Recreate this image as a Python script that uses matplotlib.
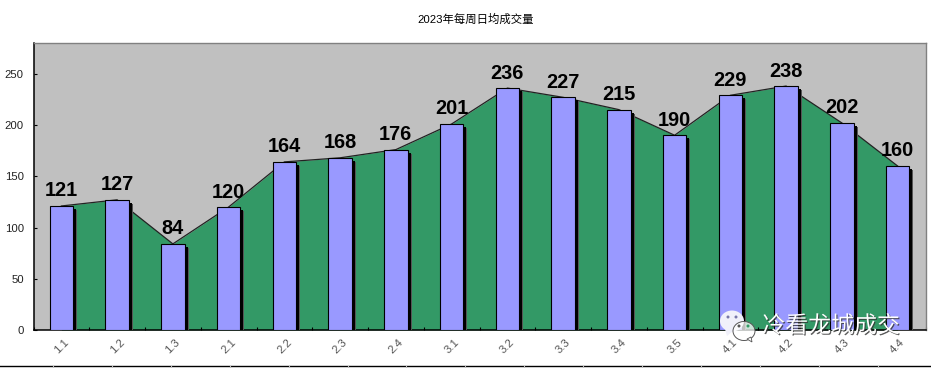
#!/usr/bin/env python3
import matplotlib
matplotlib.use("Agg")
import matplotlib.pyplot as plt
import matplotlib.patheffects as pe
from matplotlib.patches import Ellipse, Polygon

plt.rcParams["font.family"] = ["Liberation Sans", "Noto Sans CJK SC", "DejaVu Sans"]

weeks = ["1.1", "1.2", "1.3", "2.1", "2.2", "2.3", "2.4", "3.1",
         "3.2", "3.3", "3.4", "3.5", "4.1", "4.2", "4.3", "4.4"]
volumes = [121, 127, 84, 120, 164, 168, 176, 201,
           236, 227, 215, 190, 229, 238, 202, 160]
y_ticks = [0, 50, 100, 150, 200, 250]
title = "2023年每周日均成交量"
watermark = "冷看龙城成交"

W, H = 931, 368
PX = 72 / 100  # points per pixel at dpi 100

fig = plt.figure(figsize=(W / 100, H / 100), dpi=100, facecolor="white")
ax = fig.add_axes([33.5 / W, 1 - 330 / H, 892 / W, 287 / H], facecolor="#C0C0C0")

xs = list(range(len(weeks)))
ax.fill_between(xs, volumes, 0, color="#339966", lw=0, zorder=1)
ax.plot(xs, volumes, color="#222222", lw=0.9, zorder=2)

shadow = [
    pe.SimplePatchShadow(offset=(4 * PX, -4 * PX), shadow_rgbFace="#555555", alpha=1),
    pe.SimplePatchShadow(offset=(3 * PX, -3 * PX), shadow_rgbFace="black", alpha=1),
    pe.Normal(),
]
bars = ax.bar(xs, volumes, width=0.42, color="#9999FF", edgecolor="black", lw=0.8, zorder=3)
for bar in bars:
    bar.set_path_effects(shadow)

for x, v in zip(xs, volumes):
    ax.annotate(str(v), (x, v), xytext=(0, 9.5 * PX), textcoords="offset points",
                ha="center", va="baseline", fontsize=14.4, fontweight="bold",
                color="black", zorder=5)

ax.set_xlim(-0.5, len(weeks) - 0.5)
ax.set_ylim(0, 280)
ax.set_yticks(y_ticks)
ax.set_xticks([i - 0.5 for i in range(len(weeks) + 1)])
ax.set_xticklabels([])
ax.set_xticks(xs, minor=True)
ax.set_xticklabels(weeks, minor=True, rotation=45, ha="center", va="center",
                   rotation_mode="anchor", fontsize=8.2, color="#555555")
ax.tick_params(axis="x", which="major", direction="in", length=2.5, width=0.8)
ax.tick_params(axis="x", which="minor", length=0, pad=12)
ax.tick_params(axis="y", direction="in", length=2.5, width=0.8, pad=7, labelsize=8.2, labelcolor="#222222")

for side in ("left", "bottom"):
    ax.spines[side].set_color("black")
    ax.spines[side].set_linewidth(1.1)
for side in ("top", "right"):
    ax.spines[side].set_color("#808080")
    ax.spines[side].set_linewidth(1.0)

fig.text(476 / W, 1 - 19 / H, title, ha="center", va="center", fontsize=8.2,
         family=["Liberation Sans", "Noto Sans CJK SC"], color="black")

# overlay in pixel coordinates: cropped strip at the bottom and the watermark
ov = fig.add_axes([0, 0, 1, 1], facecolor="none")
ov.set_xlim(0, W)
ov.set_ylim(H, 0)
ov.axis("off")
ov.plot([0, W], [365.5, 365.5], color="black", lw=1.0, zorder=1)
for i in range(16):
    tx = 53 + 59 * i - 0.1 * i
    ov.plot([tx, tx], [366, H], color="#BBBBBB", lw=0.8, zorder=1)

ov.add_patch(Ellipse((732, 321), 24, 21, fc="#F0F0FA", ec="none", zorder=6))
ov.add_patch(Polygon([[725, 329], [727, 336], [733, 331]], fc="#F0F0FA", ec="none", zorder=6))
ov.add_patch(Ellipse((744, 331), 22, 19, fc=(1, 1, 1, 0.75), ec="#555555", lw=0.7, zorder=7))
ov.add_patch(Polygon([[747, 339], [752, 342], [751, 337]], fc="white", ec="#555555", lw=0.6, zorder=7))
for ex, ey, col in [(728, 317, "#7777AA"), (736, 317, "#7777AA"),
                    (739, 326, "#555555"), (748, 326, "#339966")]:
    ov.add_patch(Ellipse((ex, ey), 3, 3, fc=col, ec="none", zorder=8))

ov.text(831, 326, watermark, ha="center", va="center", fontsize=16.5, color="white",
        family=["Noto Sans CJK SC", "DejaVu Sans"], zorder=9,
        path_effects=[pe.withSimplePatchShadow(offset=(0.8, -0.8), shadow_rgbFace="#333333", alpha=0.8)])

fig.savefig("out.png", dpi=100)
